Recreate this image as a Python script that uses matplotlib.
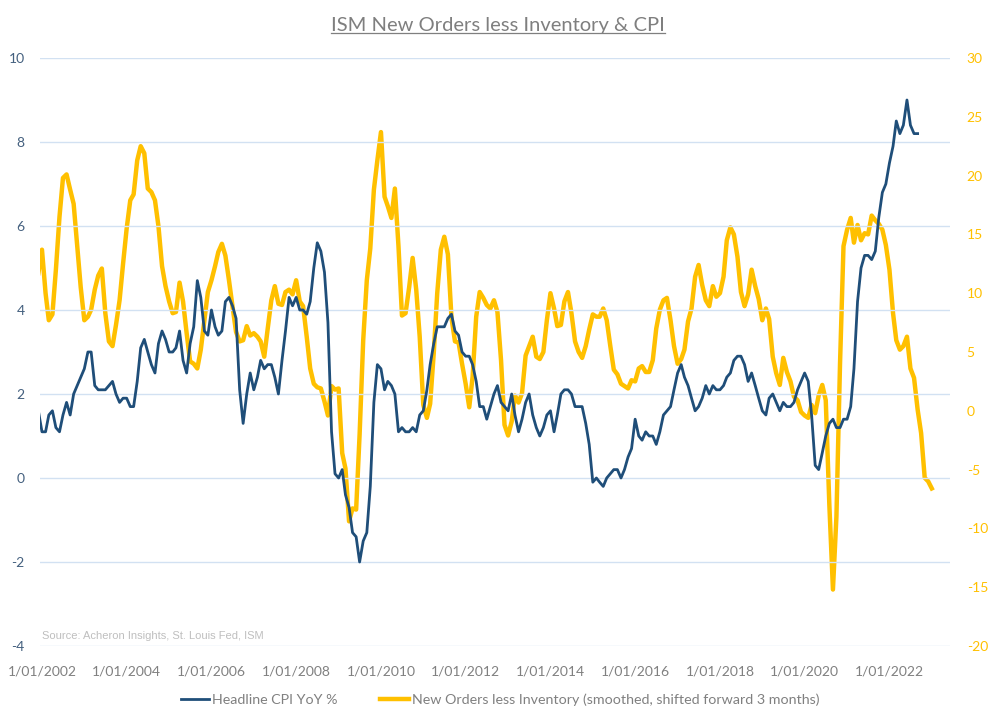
import matplotlib
matplotlib.use("Agg")
import matplotlib.pyplot as plt
import pandas as pd
from matplotlib.lines import Line2D

plt.rcParams['font.family'] = ['Lato', 'DejaVu Sans']
plt.rcParams['axes.unicode_minus'] = False

# Headline CPI YoY %, monthly, Dec 2001 -> Sep 2022
cpi = [1.6,
       1.1, 1.1, 1.5, 1.6, 1.2, 1.1, 1.5, 1.8, 1.5, 2.0, 2.2, 2.4,
       2.6, 3.0, 3.0, 2.2, 2.1, 2.1, 2.1, 2.2, 2.3, 2.0, 1.8, 1.9,
       1.9, 1.7, 1.7, 2.3, 3.1, 3.3, 3.0, 2.7, 2.5, 3.2, 3.5, 3.3,
       3.0, 3.0, 3.1, 3.5, 2.8, 2.5, 3.2, 3.6, 4.7, 4.3, 3.5, 3.4,
       4.0, 3.6, 3.4, 3.5, 4.2, 4.3, 4.1, 3.8, 2.1, 1.3, 2.0, 2.5,
       2.1, 2.4, 2.8, 2.6, 2.7, 2.7, 2.4, 2.0, 2.8, 3.5, 4.3, 4.1,
       4.3, 4.0, 4.0, 3.9, 4.2, 5.0, 5.6, 5.4, 4.9, 3.7, 1.1, 0.1,
       0.0, 0.2, -0.4, -0.7, -1.3, -1.4, -2.0, -1.5, -1.3, -0.2, 1.8, 2.7,
       2.6, 2.1, 2.3, 2.2, 2.0, 1.1, 1.2, 1.1, 1.1, 1.2, 1.1, 1.5,
       1.6, 2.1, 2.7, 3.2, 3.6, 3.6, 3.6, 3.8, 3.9, 3.5, 3.4, 3.0,
       2.9, 2.9, 2.7, 2.3, 1.7, 1.7, 1.4, 1.7, 2.0, 2.2, 1.8, 1.7,
       1.6, 2.0, 1.5, 1.1, 1.4, 1.8, 2.0, 1.5, 1.2, 1.0, 1.2, 1.5,
       1.6, 1.1, 1.5, 2.0, 2.1, 2.1, 2.0, 1.7, 1.7, 1.7, 1.3, 0.8,
       -0.1, 0.0, -0.1, -0.2, 0.0, 0.1, 0.2, 0.2, 0.0, 0.2, 0.5, 0.7,
       1.4, 1.0, 0.9, 1.1, 1.0, 1.0, 0.8, 1.1, 1.5, 1.6, 1.7, 2.1,
       2.5, 2.7, 2.4, 2.2, 1.9, 1.6, 1.7, 1.9, 2.2, 2.0, 2.2, 2.1,
       2.1, 2.2, 2.4, 2.5, 2.8, 2.9, 2.9, 2.7, 2.3, 2.5, 2.2, 1.9,
       1.6, 1.5, 1.9, 2.0, 1.8, 1.6, 1.8, 1.7, 1.7, 1.8, 2.1, 2.3,
       2.5, 2.3, 1.5, 0.3, 0.2, 0.6, 1.0, 1.3, 1.4, 1.2, 1.2, 1.4,
       1.4, 1.7, 2.6, 4.2, 5.0, 5.3, 5.3, 5.2, 5.4, 6.2, 6.8, 7.0,
       7.5, 7.9, 8.5, 8.2, 8.4, 9.0, 8.4, 8.2, 8.2]

# ISM new orders less inventories (smoothed, shifted fwd 3m), Dec 2001 -> Jan 2023
ism = [11.7,
       13.7, 10.0, 7.7, 8.2, 12.0, 16.5, 19.8, 20.1, 18.8, 17.6, 14.0, 10.5,
       7.7, 8.0, 8.6, 10.3, 11.5, 12.1, 8.3, 5.9, 5.5, 7.3, 9.4, 12.5,
       15.5, 17.9, 18.4, 21.3, 22.5, 21.9, 18.9, 18.6, 17.9, 15.7, 12.3, 10.6,
       9.3, 8.3, 8.4, 10.9, 9.3, 6.6, 4.2, 4.0, 3.6, 5.2, 7.7, 10.1,
       11.1, 12.3, 13.5, 14.2, 13.2, 11.1, 8.9, 6.7, 5.9, 6.0, 7.2, 6.4,
       6.6, 6.3, 5.9, 4.6, 7.0, 9.4, 10.6, 9.1, 9.0, 10.1, 10.3, 9.9,
       11.1, 9.3, 8.9, 6.3, 3.6, 2.3, 2.0, 1.9, 0.8, -0.4, 2.1, 1.8,
       1.9, -3.6, -4.9, -9.4, -8.3, -8.4, -2.0, 6.0, 11.1, 13.8, 18.8, 21.3,
       23.7, 18.2, 17.4, 16.4, 18.9, 14.0, 8.1, 8.3, 10.5, 13.0, 10.3, 6.3,
       0.5, -0.6, 0.6, 4.9, 10.0, 13.7, 14.8, 13.3, 7.9, 5.9, 5.8, 4.0,
       2.3, 0.3, 2.9, 8.0, 10.1, 9.6, 9.0, 8.7, 9.4, 8.4, 4.3, -1.2,
       -2.1, -0.9, 1.3, 0.7, 1.5, 4.7, 5.5, 6.3, 4.6, 4.4, 5.0, 7.7,
       10.0, 8.7, 7.2, 7.3, 9.3, 10.1, 8.3, 5.9, 5.0, 4.5, 5.5, 6.9,
       8.2, 8.0, 8.0, 8.7, 7.7, 5.5, 3.5, 3.1, 2.3, 2.1, 1.9, 2.6,
       2.5, 3.6, 3.8, 3.3, 3.3, 4.3, 7.0, 8.6, 9.4, 9.6, 7.7, 5.5,
       4.0, 4.4, 5.2, 7.6, 8.7, 11.4, 12.4, 10.7, 9.4, 8.9, 10.6, 9.7,
       10.0, 11.4, 14.5, 15.6, 15.0, 13.1, 10.1, 8.9, 9.9, 12.0, 10.6, 9.5,
       7.7, 8.7, 7.8, 4.6, 3.2, 2.2, 4.5, 3.3, 2.5, 1.2, 0.9, -0.1,
       -0.4, -0.6, 0.5, -0.2, 1.3, 2.2, 0.9, -8.0, -15.2, -9.0, 4.0, 14.0,
       15.4, 16.4, 14.3, 15.8, 14.5, 15.1, 15.0, 16.6, 16.2, 15.9, 15.4, 14.1,
       12.0, 8.3, 6.0, 5.2, 5.5, 6.3, 3.6, 2.8, 0.1, -1.9, -5.7, -6.0,
       -6.6]

cpi_dates = pd.date_range('2001-12-01', periods=len(cpi), freq='MS')
ism_dates = pd.date_range('2001-12-01', periods=len(ism), freq='MS')
tick_years = list(range(2002, 2023, 2))

navy = '#1F4E79'
gold = '#FFC000'
grey = '#808080'

fig = plt.figure(figsize=(10, 7.28), dpi=100)
ax = fig.add_axes([0.04, 1 - 646 / 728, 0.91, (646 - 58) / 728])
ax2 = ax.twinx()

l2, = ax2.plot(ism_dates, ism, color=gold, lw=3.2, zorder=2,
               label="New Orders less Inventory (smoothed, shifted forward 3 months)")
l1, = ax.plot(cpi_dates, cpi, color=navy, lw=2.0, label="Headline CPI YoY %")
# navy line above the secondary axis
ax.set_zorder(ax2.get_zorder() + 1)
ax.patch.set_visible(False)

ax.set_ylim(-4, 10)
ax.set_yticks(range(-4, 11, 2))
ax2.set_ylim(-20, 30)
ax2.set_yticks(range(-20, 31, 5))
ax.set_xlim(pd.Timestamp('2001-12-15'), pd.Timestamp('2023-06-07'))
ax.set_xticks([pd.Timestamp(f'{y}-01-01') for y in tick_years])
ax.set_xticklabels([f'1/01/{y}' for y in tick_years])

ax.grid(axis='y', color='#d2e1f2', lw=1.0)
ax.set_axisbelow(True)
for a in (ax, ax2):
    for s in a.spines.values():
        s.set_visible(False)
    a.tick_params(length=0)
ax.tick_params(axis='y', colors='#44607f', labelsize=10, pad=11)
ax.tick_params(axis='x', colors=grey, labelsize=10, pad=14)
ax2.tick_params(axis='y', colors=gold, labelsize=10, pad=12)

fig.text(0.042, 1 - 636 / 728, "Source: Acheron Insights, St. Louis Fed, ISM",
         family='Liberation Sans', fontsize=8, color='#bfbfbf', va='center')

title = fig.text(0.498, 1 - 25 / 728, "ISM New Orders less Inventory & CPI",
                 fontsize=14.5, color='#7f7f7f', ha='center', va='center')

fig.legend(handles=[l1, l2], loc='center', bbox_to_anchor=(0.5, 1 - 700 / 728),
           ncol=2, frameon=False, fontsize=10.3, labelcolor=grey,
           handlelength=2.0, handletextpad=0.2, columnspacing=3.0)

# underline the title
fig.canvas.draw()
bb = title.get_window_extent()
fig.add_artist(Line2D([bb.x0, bb.x1], [bb.y0 + 1, bb.y0 + 1], transform=None,
                      color='#7f7f7f', lw=0.9))

fig.savefig('out.png', dpi=100)
